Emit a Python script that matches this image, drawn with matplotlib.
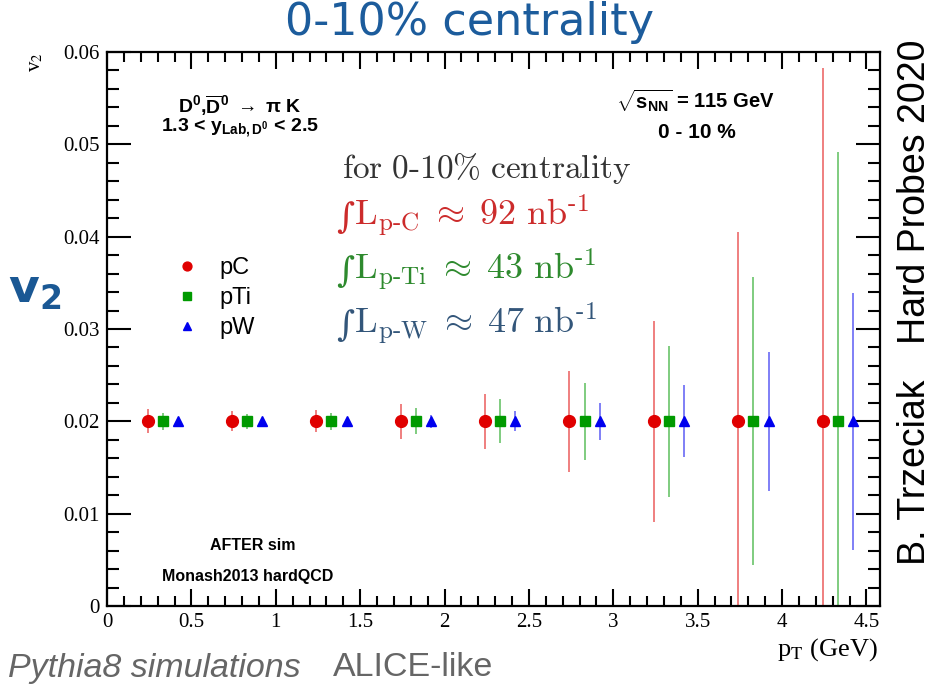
import numpy as np
import matplotlib.pyplot as plt
from matplotlib.ticker import MultipleLocator

plt.rcParams['mathtext.fontset'] = 'custom'
plt.rcParams['mathtext.rm'] = 'Liberation Sans:bold'
plt.rcParams['mathtext.bf'] = 'Liberation Sans:bold'
plt.rcParams['mathtext.it'] = 'Liberation Sans:bold'

# v2 vs pT, 0-10% centrality (all at 0.02, only stat. errors differ)
pt_c = [0.24, 0.74, 1.24, 1.74, 2.24, 2.74, 3.24, 3.74, 4.24]
pt_ti = [0.33, 0.83, 1.33, 1.83, 2.33, 2.83, 3.33, 3.83, 4.33]
pt_w = [0.42, 0.92, 1.42, 1.92, 2.42, 2.92, 3.42, 3.92, 4.42]
v2_c = [0.02] * 9
v2_ti = [0.02] * 9
v2_w = [0.02] * 9
err_c = [0.0013, 0.0011, 0.0012, 0.0019, 0.0030, 0.0055, 0.0109, 0.0205, 0.0383]
err_ti = [0.0009, 0.0008, 0.0009, 0.0014, 0.0024, 0.0042, 0.0082, 0.0156, 0.0292]
err_w = [0.0003, 0.0003, 0.0003, 0.0007, 0.0011, 0.0020, 0.0039, 0.0075, 0.0139]

W, H = 933, 691


def px(x, y):
    return x / W, 1 - y / H


fig = plt.figure(figsize=(9.33, 6.91), dpi=100)
ax = fig.add_axes([107 / W, 1 - 606 / H, (880 - 107) / W, (606 - 52) / H])

series = [
    (pt_c, v2_c, err_c, 'o', '#e00000', 'pC', 8.5),
    (pt_ti, v2_ti, err_ti, 's', '#009a00', 'pTi', 7.5),
    (pt_w, v2_w, err_w, '^', '#0000ee', 'pW', 7.5),
]
for x, y, e, m, c, lab, ms in series:
    ax.errorbar(x, y, yerr=e, fmt='none', ecolor=c, elinewidth=1.4, alpha=0.5,
                capsize=0, zorder=2)
    ax.plot(x, y, m, color=c, ms=ms, ls='none', label=lab, zorder=3)

ax.set_xlim(0, 4.58)
ax.set_ylim(0, 0.06)
ax.xaxis.set_minor_locator(MultipleLocator(0.1))
ax.yaxis.set_minor_locator(MultipleLocator(0.002))
ax.tick_params(which='both', direction='in', top=True, right=True, width=1.5)
ax.tick_params(axis='x', which='major', length=12, pad=5)
ax.tick_params(axis='x', which='minor', length=7)
ax.tick_params(axis='y', which='major', length=17, pad=5)
ax.tick_params(axis='y', which='minor', length=8.5)
for s in ax.spines.values():
    s.set_linewidth(1.6)

xt = np.arange(0, 4.6, 0.5)
ax.set_xticks(xt)
ax.set_xticklabels(['0', '0.5', '1', '1.5', '2', '2.5', '3', '3.5', '4', '4.5'],
                   family='Liberation Serif', fontsize=15)
yt = np.arange(0, 0.061, 0.01)
ax.set_yticks(yt)
ax.set_yticklabels(['0', '0.01', '0.02', '0.03', '0.04', '0.05', '0.06'],
                   family='Liberation Serif', fontsize=15)

leg = ax.legend(loc='upper left', bbox_to_anchor=px(142, 236),
                bbox_transform=fig.transFigure, frameon=False,
                prop={'family': 'Liberation Sans', 'size': 17},
                handletextpad=0.4, labelspacing=0.33, markerscale=0.75)

# axis titles
fig.text(*px(36, 62), r'v$_2$', family='Liberation Serif', math_fontfamily='stix',
         fontsize=15, rotation=90, ha='center', va='center')
fig.text(*px(827, 650), r'p$_{\mathrm{T}}$ (GeV)', family='Liberation Serif',
         math_fontfamily='stix', fontsize=19, ha='center', va='center')

# annotations inside the frame
fig.text(*px(240, 106), r'D$^{0}$,$\overline{\mathrm{D}}$$^{0}$ $\rightarrow$ $\pi$ K',
         fontsize=14, fontweight='bold', family='Liberation Sans',
         ha='center', va='center')
fig.text(*px(240, 128), r'1.3 < y$_{\mathrm{Lab,D^{0}}}$ < 2.5',
         fontsize=14, fontweight='bold', family='Liberation Sans',
         ha='center', va='center')
fig.text(*px(695, 101), r'$\sqrt{\mathrm{s_{NN}}}$ = 115 GeV',
         fontsize=14.5, fontweight='bold', family='Liberation Sans',
         ha='center', va='center')
fig.text(*px(697, 133), '0 - 10 %', fontsize=15, fontweight='bold',
         family='Liberation Sans', ha='center', va='center')
fig.text(*px(253, 545), 'AFTER sim', fontsize=11.5, fontweight='bold',
         family='Liberation Sans', ha='center', va='center')
fig.text(*px(248, 577), 'Monash2013 hardQCD', fontsize=11.5, fontweight='bold',
         family='Liberation Sans', ha='center', va='center')

# luminosity box
fig.text(*px(342, 168), r'$\mathrm{for\ 0\text{-}10\%\ centrality}$',
         math_fontfamily='cm', fontsize=24, color='#333333', ha='left', va='center')
lumi = [
    (r'$\mathrm{L}_{\mathrm{p\text{-}C}}\;\approx\;\mathrm{92\ nb}^{\mathrm{\text{-}1}}$', '#cc2b2b', 216),
    (r'$\mathrm{L}_{\mathrm{p\text{-}Ti}}\;\approx\;\mathrm{43\ nb}^{\mathrm{\text{-}1}}$', '#2e8a2e', 270),
    (r'$\mathrm{L}_{\mathrm{p\text{-}W}}\;\approx\;\mathrm{47\ nb}^{\mathrm{\text{-}1}}$', '#33567a', 324),
]
for s, c, yy in lumi:
    fig.text(*px(345, yy + 2), '\u222b', family='DejaVu Serif', fontsize=25,
             color=c, ha='center', va='center')
    fig.text(*px(354, yy), s, math_fontfamily='cm', fontsize=26, color=c,
             ha='left', va='center')

# slide decorations
fig.text(*px(470, 22), '0-10% centrality', fontsize=32, color='#1c5c9c',
         family='DejaVu Sans', ha='center', va='center')
fig.text(*px(35, 290), r'$\mathbf{v_2}$', math_fontfamily='dejavusans',
         fontsize=34, color='#1a5894', ha='center', va='center')
fig.text(*px(915, 472), 'B. Trzeciak', fontsize=27, family='Liberation Sans',
         rotation=90, ha='center', va='center')
fig.text(*px(915, 192), 'Hard Probes 2020', fontsize=27, family='Liberation Sans',
         rotation=90, ha='center', va='center')
fig.text(*px(8, 668), 'Pythia8 simulations', fontsize=24.5, style='italic',
         color='#666666', family='Liberation Sans', ha='left', va='center')
fig.text(*px(333, 668), 'ALICE-like', fontsize=24.5, color='#666666',
         family='Liberation Sans', ha='left', va='center')

fig.savefig('out.png', dpi=100)
